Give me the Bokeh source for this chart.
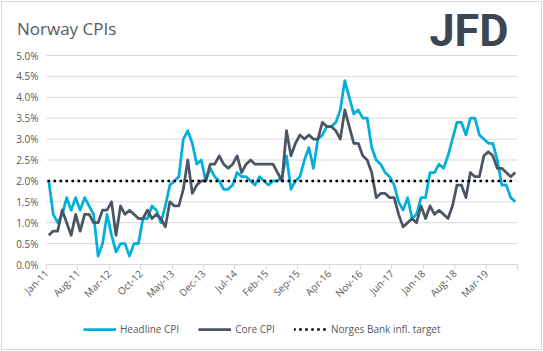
from math import pi
import pandas as pd
from bokeh.plotting import figure
from bokeh.layouts import column
from bokeh.models import (Range1d, FixedTicker, PrintfTickFormatter, Label,
                          Legend, LegendItem)
from bokeh.embed import file_html
from bokeh.resources import INLINE

# ---------------- data ----------------
months = pd.date_range("2011-01-01", "2019-09-01", freq="MS")

headline_cpi = [
    2.0, 1.2, 1.0, 1.2, 1.6, 1.3, 1.6, 1.3, 1.6, 1.4, 1.2, 0.2,   # 2011
    0.5, 1.2, 0.7, 0.3, 0.5, 0.5, 0.2, 0.5, 0.5, 1.1, 1.1, 1.4,   # 2012
    1.3, 1.0, 1.4, 1.9, 2.0, 2.1, 3.0, 3.2, 2.9, 2.4, 2.5, 2.0,   # 2013
    2.3, 2.1, 2.0, 1.8, 1.8, 1.9, 2.2, 2.1, 2.1, 2.0, 1.9, 2.1,   # 2014
    2.0, 1.9, 2.0, 2.0, 2.1, 2.6, 1.8, 2.0, 2.1, 2.5, 2.8, 2.3,   # 2015
    3.0, 3.1, 3.3, 3.3, 3.4, 3.7, 4.4, 4.0, 3.6, 3.7, 3.5, 3.5,   # 2016
    2.8, 2.5, 2.4, 2.2, 2.1, 1.9, 1.5, 1.3, 1.6, 1.1, 1.2, 1.6,   # 2017
    1.6, 2.2, 2.2, 2.4, 2.3, 2.6, 3.0, 3.4, 3.4, 3.1, 3.5, 3.5,   # 2018
    3.1, 3.0, 2.9, 2.9, 2.5, 1.9, 1.9, 1.6, 1.5,                  # 2019
]

core_cpi = [
    0.7, 0.8, 0.8, 1.3, 1.0, 0.7, 1.2, 0.8, 1.2, 1.2, 1.0, 1.0,   # 2011
    1.3, 1.3, 1.5, 0.7, 1.4, 1.2, 1.3, 1.2, 1.1, 1.1, 1.3, 1.1,   # 2012
    1.2, 1.1, 0.9, 1.5, 1.4, 1.4, 1.8, 2.5, 1.7, 1.9, 2.0, 2.0,   # 2013
    2.4, 2.4, 2.6, 2.4, 2.3, 2.4, 2.6, 2.2, 2.4, 2.5, 2.4, 2.4,   # 2014
    2.4, 2.4, 2.4, 2.2, 2.0, 3.2, 2.6, 2.9, 3.1, 3.0, 3.1, 3.0,   # 2015
    3.0, 3.4, 3.3, 3.3, 3.2, 3.0, 3.7, 3.3, 2.9, 2.9, 2.6, 2.5,   # 2016
    2.2, 1.6, 1.7, 1.7, 1.6, 1.6, 1.2, 0.9, 1.0, 1.1, 1.0, 1.4,   # 2017
    1.1, 1.4, 1.2, 1.3, 1.2, 1.1, 1.4, 1.9, 1.9, 1.6, 2.2, 2.1,   # 2018
    2.1, 2.6, 2.7, 2.6, 2.3, 2.3, 2.2, 2.1, 2.2,                  # 2019
]

target_rate = 2.0

tick_labels = ["Jan-11", "Aug-11", "Mar-12", "Oct-12", "May-13", "Dec-13",
               "Jul-14", "Feb-15", "Sep-15", "Apr-16", "Nov-16", "Jun-17",
               "Jan-18", "Aug-18", "Mar-19"]
label_step = 7

y_ticks = [0.0, 0.5, 1.0, 1.5, 2.0, 2.5, 3.0, 3.5, 4.0, 4.5, 5.0]

series_names = ["Headline CPI", "Core CPI", "Norges Bank infl. target"]

# ---------------- styles / geometry (pixels) ----------------
TXT = "#595959"
FONT = "Open Sans"
C_HEAD = "#00B0DA"
C_CORE = "#4B5563"
W = 539                       # figure width (page has 2px border+margin each side)
AREA_L, AREA_R = 44, 515      # plot area, px from figure's left edge
AREA_TOP, AREA_BOT = 53, 262  # 5.0% line and 0.0% line, px from figure's top
FRAME_L = 12                  # frame starts left of plot area so title fits

head_style = dict(line_color=C_HEAD, line_width=2.75, line_join="round")
core_style = dict(line_color=C_CORE, line_width=2.75, line_join="round")
tgt_style = dict(line_color="black", line_width=2.5, line_dash="0 6",
                 line_cap="square")

n = len(months)
x = list(range(n))
px_per_cat = (AREA_R - AREA_L) / n
px_per_unit = (AREA_BOT - AREA_TOP) / (y_ticks[-1] - y_ticks[0])
x_lo, x_hi = -0.5, n - 0.5
x_start = x_lo - (AREA_L - FRAME_L) / px_per_cat
y_end = y_ticks[0] + AREA_BOT / px_per_unit


def to_data(px_x, px_y):
    return (x_lo + (px_x - AREA_L) / px_per_cat,
            y_ticks[0] + (AREA_BOT - px_y) / px_per_unit)


# ---------------- main chart (frame reaches the top so title/logo fit) -----
p = figure(width=W, height=AREA_BOT + 44,
           x_range=Range1d(x_start, x_hi), y_range=Range1d(y_ticks[0], y_end),
           output_backend="svg", toolbar_location=None, frame_align=False,
           min_border_left=FRAME_L, min_border_right=W - AREA_R,
           min_border_top=0, min_border_bottom=44)
p.outline_line_color = None
p.grid.visible = False

tick_pos = [x_lo + label_step * k for k in range(len(tick_labels) + 1)]
p.xaxis.ticker = FixedTicker(ticks=tick_pos)
p.xaxis.bounds = (x_lo, x_hi)
overrides = {tp: lab for tp, lab in zip(tick_pos, tick_labels)}
overrides[tick_pos[-1]] = ""
p.xaxis.major_label_overrides = overrides
p.xaxis.major_label_orientation = pi / 4
p.xaxis.axis_line_color = "#d9d9d9"
p.xaxis.major_tick_line_color = "#d9d9d9"
p.xaxis.major_tick_out = 5
p.xaxis.major_tick_in = 0
p.xaxis.minor_tick_line_color = None
p.xaxis.major_label_text_font = FONT
p.xaxis.major_label_text_font_size = "10px"
p.xaxis.major_label_text_color = TXT
p.xaxis.major_label_standoff = 2

p.yaxis.ticker = FixedTicker(ticks=y_ticks)
p.yaxis.formatter = PrintfTickFormatter(format="%.1f%%")
p.yaxis.axis_line_color = None
p.yaxis.major_tick_line_color = None
p.yaxis.minor_tick_line_color = None
p.yaxis.major_tick_out = 0
p.yaxis.major_label_standoff = -(AREA_L - FRAME_L - 8)
p.yaxis.major_label_text_font = FONT
p.yaxis.major_label_text_font_size = "10px"
p.yaxis.major_label_text_color = TXT

# horizontal gridlines across the plot area only
p.segment(x0=x_lo, x1=x_hi, y0=y_ticks, y1=y_ticks,
          line_color="#d9d9d9", line_width=1)

p.line(x, headline_cpi, **head_style)
p.line(x, core_cpi, **core_style)
p.line([x[0], x[-1]], [target_rate, target_rate], **tgt_style)

tx, ty = to_data(14.5, 26)
p.add_layout(Label(x=tx, y=ty, text="Norway CPIs", text_font=FONT,
                   text_font_size="17px", text_color=TXT,
                   text_baseline="alphabetic"))
lx, ly = to_data(506, 28)
p.add_layout(Label(x=lx, y=ly, text="JFD", text_font="Roboto",
                   text_font_style="bold", text_font_size="45px",
                   text_color="#3c4653", text_align="right",
                   text_baseline="alphabetic"))

# ---------------- legend strip (series drawn out of view, only the key shows) --
leg = figure(width=W, height=41, x_range=Range1d(0, 1), y_range=Range1d(10, 11),
             x_axis_type=None, y_axis_type=None, output_backend="svg",
             toolbar_location=None, min_border=0, frame_align=False)
leg.outline_line_color = None
leg.grid.visible = False
lr = [leg.line(x, headline_cpi, **head_style),
      leg.line(x, core_cpi, **core_style),
      leg.line([x[0], x[-1]], [target_rate, target_rate], **tgt_style)]
legend = Legend(items=[LegendItem(label=nm, renderers=[r])
                       for nm, r in zip(series_names, lr)],
                orientation="horizontal", location=(81, 13),
                glyph_width=33, glyph_height=14, label_standoff=4, spacing=19,
                padding=0, margin=0, border_line_color=None,
                background_fill_alpha=0, label_text_font=FONT,
                label_text_font_size="10px", label_text_color=TXT,
                label_height=14)
leg.add_layout(legend)

page = column(p, leg, spacing=0)
page.styles = {"border": "1px solid #d9d9d9", "margin": "1px"}

open("out.html", "w").write(file_html(page, INLINE))
